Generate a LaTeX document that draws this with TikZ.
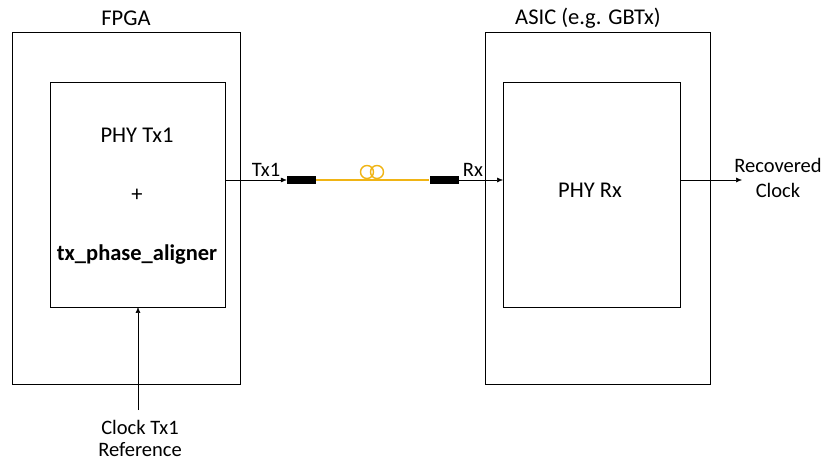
\documentclass[tikz,border=0pt]{standalone}
\usepackage{fontspec}
\setmainfont{Carlito}
\usetikzlibrary{arrows.meta}
\definecolor{fiber}{RGB}{240,180,20}
\begin{document}
\begin{tikzpicture}[x=1pt,y=-1pt,
  box/.style={draw=black,line width=0.9pt,inner sep=0pt,outer sep=0pt},
  lbl/.style={font=\fontsize{22.5}{26}\selectfont,inner sep=1pt},
  sm/.style={font=\fontsize{20.5}{24}\selectfont,align=center,inner sep=1pt},
  conn/.style={fill=black,draw=none,minimum width=29pt,minimum height=8pt,inner sep=0pt},
  arr/.style={-{Latex[length=6pt,width=5pt]},line width=0.5pt}]
\useasboundingbox (0,0) rectangle (825,462);
% FPGA
\node[box,minimum width=228pt,minimum height=352pt] (fpga) at (126,208) {};
\node[box,minimum width=175pt,minimum height=225pt] (tx) at (137.5,194.5) {};
\node[lbl] (fpgal) at (126,18) {FPGA};
\node[lbl] (phytx) at (137,135) {PHY Tx1};
\node[lbl] (plus) at (137,195) {+};
\node[lbl,font=\fontsize{22.5}{26}\selectfont\bfseries] (tpa) at (137,255) {tx\_phase\_aligner};
% ASIC
\node[box,minimum width=225pt,minimum height=352pt] (asic) at (597.5,208) {};
\node[box,minimum width=177pt,minimum height=225pt] (rx) at (591.5,194.5) {};
\node[lbl] (asicl) at (588,18) {ASIC (e.g. GBTx)};
\node[lbl] (phyrx) at (590,190) {PHY Rx};
% connectors
\node[conn] (c1) at (301.5,180) {};
\node[conn] (c2) at (444,180) {};
\draw[arr] (tx.east |- 0,180) -- (c1.west);
\draw[fiber,line width=1.6pt] (c1.east) -- (c2.west);
\draw[fiber,line width=1.4pt] (367,172) circle (6.5pt) (377,172) circle (6.5pt);
\draw[arr] (c2.east) -- (rx.west |- 0,180);
\node[sm,anchor=base] (tx1l) at (266,177) {Tx1};
\node[sm,anchor=base] (rxl) at (473,177) {Rx};
% recovered clock
\coordinate (rc) at (742,180);
\draw[arr] (rx.east |- 0,180) -- (rc);
\node[sm] (rcl) at (778,165) {Recovered};
\node[sm] (rcl2) at (778,190) {Clock};
% clock reference
\coordinate (cr) at (138,410);
\draw[arr] (cr) -- (tx.south -| 138,0);
\node[sm] (crl) at (140,427) {Clock Tx1};
\node[sm] (crl2) at (140,450) {Reference};
\end{tikzpicture}
\end{document}
